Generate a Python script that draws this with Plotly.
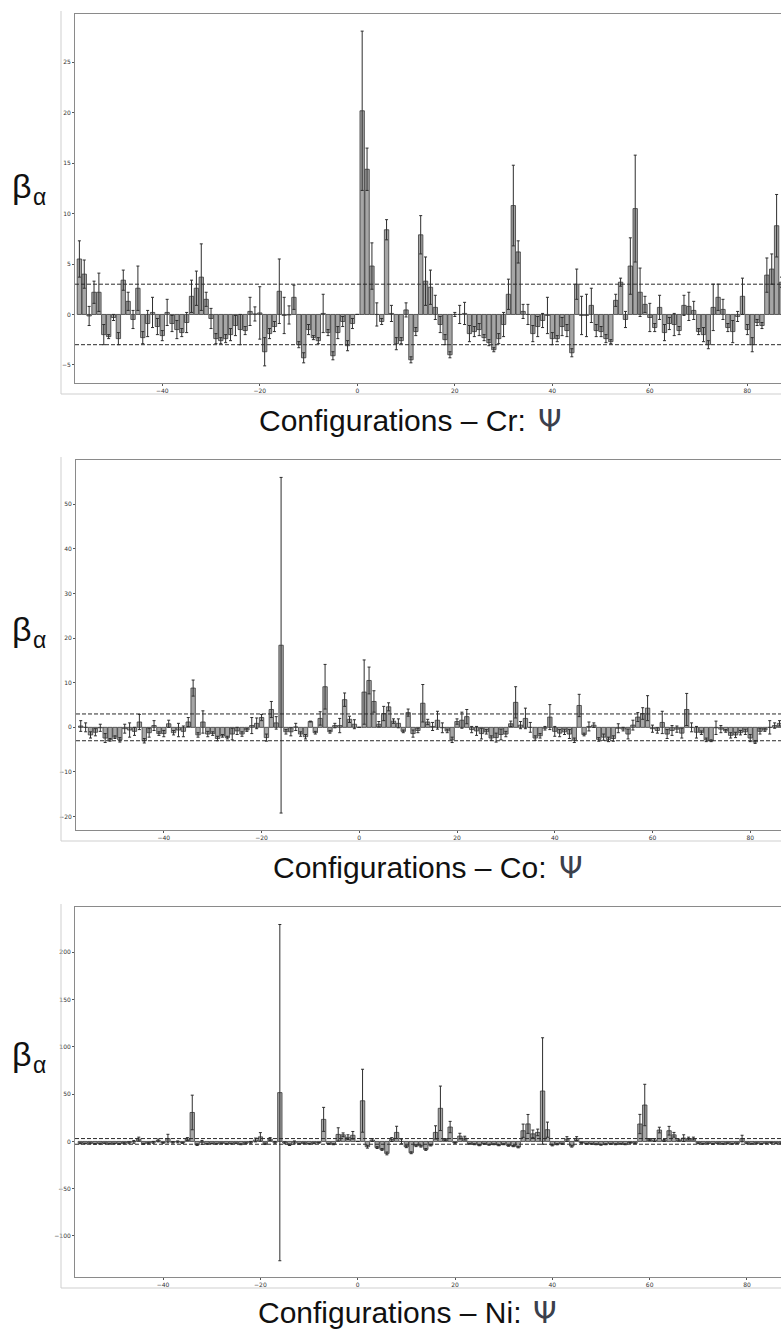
import plotly.graph_objects as go

# ---------------- data ----------------
x_positions = list(range(-57, 88))

cr_values = [5.5, 4.0, -0.15, 2.2, 2.2, -2.0, -2.2, -0.3, -2.4, 3.4,
             1.3, -0.5, 2.6, -2.3, -0.9, 0.2, -1.2, -2.1, 0.2, -0.9,
             -1.5, -1.8, -0.8, 1.8, 2.6, 3.7, 1.5, -0.4, -2.4, -2.6,
             -2.4, -2.0, -1.1, -1.5, -1.6, 0.3, 0.05, 0.15, -3.7, -1.9,
             -1.2, 2.3, -0.1, -0.05, 1.7, -3.0, -4.3, -1.5, -2.3, -2.6,
             0.1, -1.8, -4.1, -1.8, -0.7, -3.1, -0.9, 0.0, 20.2, 14.4,
             4.8, 0.0, -0.7, 8.4, 0.1, -2.9, -2.6, 0.45, -4.5, -1.7,
             7.9, 3.3, 2.7, 0.7, -1.0, -2.5, -4.0, 0.0, 0.0, 0.1,
             -1.9, -1.7, -1.5, -2.3, -2.8, -3.5, -2.4, -1.0, 2.0, 10.8,
             6.2, 0.3, 0.0, -1.9, -1.2, -0.6, -0.1, -2.4, -2.4, -1.2,
             -1.6, -3.8, 3.0, -0.1, -0.1, 0.9, -1.6, -1.7, -2.4, -2.7,
             1.4, 3.2, -0.5, 4.8, 10.5, 2.2, 1.0, -0.3, -1.3, 0.7,
             -1.8, -0.9, -1.0, -1.6, 0.9, 0.8, 0.4, -1.7, -2.0, -3.0,
             0.7, 1.7, 0.5, -1.3, -1.7, -0.2, 1.8, -1.5, -3.0, -0.8,
             -1.1, 3.9, 4.5, 8.8, 3.2]
cr_errors = [1.8, 1.4, 0.95, 1.1, 1.9, 1.0, 0.2, 0.3, 0.6, 1.0,
             0.9, 0.9, 2.2, 0.6, 1.3, 1.5, 0.8, 0.5, 1.3, 0.8,
             0.9, 0.4, 1.0, 1.6, 1.7, 3.3, 0.7, 1.0, 0.5, 0.3,
             0.4, 0.6, 1.0, 1.5, 0.4, 1.4, 0.7, 2.6, 1.4, 0.5,
             0.5, 3.2, 1.8, 0.9, 1.2, 0.3, 0.5, 0.5, 0.2, 0.3,
             1.9, 0.3, 0.4, 0.6, 0.5, 0.5, 0.5, 0.0, 7.9, 2.1,
             2.3, 1.15, 0.3, 1.0, 0.8, 0.6, 0.3, 0.7, 0.3, 0.4,
             1.9, 2.4, 1.7, 1.2, 0.8, 0.5, 0.3, 0.2, 0.9, 1.1,
             0.8, 0.5, 0.6, 0.3, 0.3, 0.2, 0.5, 1.2, 1.5, 4.0,
             1.1, 0.7, 1.0, 0.8, 1.0, 0.7, 1.8, 0.6, 0.3, 0.9,
             0.6, 0.4, 1.5, 1.9, 2.1, 1.7, 0.6, 0.5, 0.4, 0.2,
             0.6, 0.4, 0.8, 2.8, 5.3, 2.4, 0.8, 1.4, 0.4, 1.2,
             0.8, 0.6, 1.1, 0.4, 1.0, 1.4, 0.9, 0.3, 0.7, 0.4,
             2.3, 1.3, 1.0, 0.4, 1.1, 0.5, 1.8, 0.5, 0.7, 0.3,
             0.3, 1.7, 1.5, 3.1, 0.5]

co_values = [0.3, 0.0, -1.7, -1.1, -0.1, -2.4, -2.8, -2.2, -2.8, -0.3,
             -0.6, -0.9, 1.2, -3.0, -1.2, 0.4, -1.4, -1.4, 0.8, -1.2,
             -0.6, -0.9, 1.2, 8.8, -1.7, 1.2, -1.5, -1.4, -2.5, -1.9,
             -2.3, -1.5, -0.8, -1.5, -0.6, 0.4, 0.9, 2.2, -2.3, 4.0,
             1.0, 18.4, -1.0, -1.0, 0.1, -1.5, -2.1, 1.3, -1.2, 2.0,
             9.1, -1.0, 0.4, 0.4, 6.2, 1.8, 0.7, 0.0, 7.9, 10.5,
             5.8, 0.7, 3.1, 4.6, 1.4, 0.9, -0.9, 3.3, -1.4, -0.7,
             5.4, 1.2, 0.2, 1.6, -0.1, -0.8, -2.8, 1.3, 1.6, 2.4,
             -0.5, -0.8, -1.4, -1.0, -2.4, -2.3, -1.6, -1.5, 0.8, 5.6,
             0.5, 2.0, 0.0, -2.4, -1.9, -0.2, 2.3, -0.9, -1.3, -1.0,
             -1.5, -2.9, 4.9, -1.6, 0.2, 0.5, -2.7, -2.2, -2.7, -2.5,
             -0.2, -0.4, -1.5, 0.5, 2.3, 3.1, 4.3, -0.3, -0.7, 1.1,
             -1.5, -0.7, -0.4, -1.3, 4.0, 0.0, -1.1, -1.2, -2.8, -3.0,
             -0.1, -0.4, -0.8, -1.8, -1.7, -1.2, -1.0, -2.4, -3.3, -0.9,
             -0.6, 0.0, 0.4, 0.9, 0.6]
co_errors = [1.2, 1.0, 0.7, 0.8, 0.8, 1.0, 0.3, 0.3, 0.5, 1.0,
             1.6, 0.9, 1.7, 0.5, 1.0, 1.1, 0.4, 0.7, 0.8, 0.5,
             1.5, 1.2, 1.0, 1.8, 0.5, 2.5, 0.6, 0.4, 0.5, 0.3,
             0.3, 1.3, 0.8, 0.5, 0.3, 1.8, 1.2, 0.7, 0.8, 1.8,
             1.4, 37.6, 0.5, 0.9, 0.8, 0.5, 0.5, 0.1, 0.3, 1.5,
             5.0, 0.3, 0.5, 1.6, 1.5, 0.7, 1.0, 0.0, 7.2, 3.0,
             2.4, 0.6, 1.6, 0.9, 0.5, 1.0, 0.3, 0.8, 0.8, 0.5,
             4.2, 0.6, 0.9, 2.0, 1.1, 0.4, 0.6, 0.6, 1.8, 1.6,
             0.7, 1.0, 1.2, 0.5, 0.5, 1.0, 1.2, 0.6, 0.6, 3.5,
             0.8, 2.3, 1.1, 0.5, 0.5, 0.4, 2.8, 1.1, 0.8, 0.6,
             1.0, 0.5, 2.5, 0.3, 1.0, 0.5, 0.4, 0.7, 0.5, 0.6,
             1.0, 0.4, 1.1, 1.1, 1.0, 1.3, 2.8, 0.8, 0.6, 2.5,
             1.0, 1.1, 0.7, 1.1, 3.6, 1.0, 1.3, 0.4, 0.4, 0.2,
             1.5, 0.8, 0.3, 0.6, 0.6, 0.5, 0.6, 0.8, 0.3, 0.6,
             0.3, 1.5, 0.6, 0.6, 0.4]

ni_values = [-2.0, -2.2, -2.0, -2.5, -2.3, -2.0, -2.4, -2.2, -2.5, -2.0,
             -1.5, -0.5, 2.5, -2.5, -2.0, -1.0, 1.0, -1.5, 3.0, -1.0,
             -0.5, -1.5, 2.5, 30.6, -3.5, -1.0, -2.5, -2.2, -2.4, -2.0,
             -2.5, -2.3, -2.0, -3.0, -2.0, -1.0, 1.5, 4.8, -2.5, 2.5,
             -1.0, 51.6, -1.5, -3.5, -1.0, -2.5, -2.0, -2.5, -2.0, -1.5,
             23.3, -2.5, -3.0, 7.4, 7.0, 4.5, 6.5, 0.0, 43.0, -5.6,
             1.5, -6.5, -8.5, -12.7, 2.0, 9.5, 0.0, -5.6, -12.0, -4.5,
             -5.0, -8.5, -4.0, 9.5, 35.0, 2.0, 15.2, -1.5, 5.6, 3.5,
             -2.5, -3.0, -4.0, -2.5, -3.5, -3.0, -4.0, -3.0, -4.5, -5.0,
             -6.0, 11.3, 18.5, 8.0, 9.5, 53.3, 12.4, -3.9, -3.0, -2.5,
             2.5, -5.0, 3.0, -1.5, -2.5, -2.5, -3.0, -3.5, -3.0, -2.5,
             -3.0, -2.5, -3.0, -1.5, -2.0, 18.4, 38.5, 2.0, 1.5, 12.0,
             1.0, 11.3, 7.0, 1.5, 3.5, 3.0, 3.0, -2.0, -2.5, -2.0,
             -2.5, -2.0, -2.5, -2.0, -2.5, -2.0, 3.0, -2.0, -2.5, -2.0,
             -2.5, -2.0, -1.5, -2.0, -2.0]
ni_errors = [0.5, 0.4, 0.5, 0.4, 0.5, 0.4, 0.5, 0.4, 0.5, 0.6,
             1.0, 1.5, 2.0, 0.5, 0.6, 1.0, 1.5, 0.5, 4.5, 0.8,
             1.0, 0.6, 1.5, 18.3, 0.8, 2.0, 0.5, 0.4, 0.5, 0.4,
             0.5, 0.5, 0.4, 0.5, 0.6, 1.0, 2.0, 4.5, 0.8, 1.5,
             1.0, 177.8, 1.0, 0.8, 1.5, 0.5, 0.5, 0.4, 0.5, 0.4,
             12.7, 0.5, 0.5, 7.0, 2.0, 2.5, 4.0, 0.0, 33.3, 1.5,
             1.5, 1.0, 1.0, 1.5, 2.0, 6.5, 2.5, 1.0, 1.0, 1.0,
             1.0, 1.0, 0.8, 7.0, 23.5, 1.0, 6.0, 0.5, 3.0, 2.0,
             0.5, 0.5, 0.6, 0.5, 0.5, 0.5, 0.6, 0.5, 0.6, 0.6,
             0.8, 7.0, 10.0, 4.0, 3.5, 56.3, 8.0, 0.8, 0.6, 0.6,
             2.5, 1.0, 2.0, 0.5, 0.5, 0.5, 0.5, 0.5, 0.5, 0.5,
             0.5, 0.5, 0.5, 0.5, 0.5, 10.2, 21.9, 1.0, 1.5, 3.0,
             1.0, 4.6, 2.5, 1.0, 3.5, 1.5, 1.5, 0.5, 0.5, 0.4,
             0.5, 0.4, 0.5, 0.5, 0.5, 0.4, 3.5, 0.5, 0.5, 0.5,
             0.5, 0.4, 0.5, 0.5, 0.5]

panel_labels = ["Cr", "Co", "Ni"]
x_tickvals = [-40, -20, 0, 20, 40, 60, 80]
y_tickvals = [
    [-5, 0, 5, 10, 15, 20, 25],
    [-20, -10, 0, 10, 20, 30, 40, 50],
    [-100, -50, 0, 50, 100, 150, 200],
]
threshold = 3

# ---------------- layout geometry (pixels) ----------------
W, H = 781, 1333
panels = [
    dict(left=75, top=14, bottom=383, xr=[-57.9, 86.9], yr=[-6.8, 29.8],
         beta_y=186, title_y=420, title_right=528),
    dict(left=76, top=460, bottom=830, xr=[-57.97, 86.3], yr=[-23.0, 59.9],
         beta_y=629, title_y=867, title_right=549),
    dict(left=75, top=907, bottom=1277, xr=[-58.1, 87.0], yr=[-143.4, 247.9],
         beta_y=1054, title_y=1312, title_right=523),
]
series = [(cr_values, cr_errors), (co_values, co_errors), (ni_values, ni_errors)]

fig = go.Figure()
shapes = []
annotations = []
layout_axes = {}


def py(v):
    return 1 - v / H


for i, (p, (vals, errs)) in enumerate(zip(panels, series)):
    n = "" if i == 0 else str(i + 1)
    xa, ya = "x" + n, "y" + n
    fig.add_trace(go.Bar(
        x=x_positions, y=vals, width=0.9,
        marker=dict(color="#a6a6a6", line=dict(color="#3a3a3a", width=0.8)),
        error_y=dict(type="data", array=errs, visible=True,
                     color="#2e2e2e", thickness=1, width=1.5),
        xaxis=xa, yaxis=ya, showlegend=False,
    ))
    layout_axes["xaxis" + n] = dict(
        domain=[p["left"] / W, 1.0], range=p["xr"], anchor=ya,
        tickvals=x_tickvals, ticks="outside", ticklen=2, tickcolor="#555",
        tickfont=dict(size=6, color="#333", family="DejaVu Sans"),
        showline=True, linecolor="#8a8a8a", linewidth=1, mirror=True,
        showgrid=False, zeroline=False,
    )
    layout_axes["yaxis" + n] = dict(
        domain=[py(p["bottom"]), py(p["top"])], range=p["yr"], anchor=xa,
        tickvals=y_tickvals[i], ticks="outside", ticklen=2, tickcolor="#555",
        tickfont=dict(size=6, color="#333", family="DejaVu Sans"),
        showline=True, linecolor="#8a8a8a", linewidth=1, mirror=False,
        showgrid=False, zeroline=False,
    )
    for yv in (threshold, -threshold):
        shapes.append(dict(type="line", xref=xa + " domain", yref=ya,
                           x0=0, x1=1, y0=yv, y1=yv,
                           line=dict(color="#2a2a2a", width=1, dash="4px,2px")))
    # outer screenshot frame lines
    shapes.append(dict(type="line", xref="paper", yref="paper",
                       x0=61 / W, x1=61 / W,
                       y0=py(p["bottom"] + 11), y1=py(p["top"] - 3),
                       line=dict(color="#cfcfcf", width=1)))
    shapes.append(dict(type="line", xref="paper", yref="paper",
                       x0=61 / W, x1=1,
                       y0=py(p["bottom"] + 11), y1=py(p["bottom"] + 11),
                       line=dict(color="#cfcfcf", width=1)))
    # beta_alpha label (beta and alpha as separate texts)
    annotations.append(dict(
        xref="paper", yref="paper", x=22 / W, y=py(p["beta_y"]),
        xanchor="center", yanchor="middle", showarrow=False,
        text="β", font=dict(size=34, color="#111", family="Liberation Sans"),
    ))
    annotations.append(dict(
        xref="paper", yref="paper", x=31 / W, y=py(p["beta_y"] + 11),
        xanchor="left", yanchor="middle", showarrow=False,
        text="α", font=dict(size=23, color="#111", family="Liberation Sans"),
    ))
    # x title (main text + Psi)
    annotations.append(dict(
        xref="paper", yref="paper", x=p["title_right"] / W, y=py(p["title_y"]),
        xanchor="right", yanchor="middle", showarrow=False,
        text="Configurations – " + panel_labels[i] + ":",
        font=dict(size=30, color="#111", family="Liberation Sans"),
    ))
    annotations.append(dict(
        xref="paper", yref="paper", x=(p["title_right"] + 8) / W, y=py(p["title_y"]),
        xanchor="left", yanchor="middle", showarrow=False,
        text="Ψ", font=dict(size=30, color="#3b404c", family="DejaVu Sans"),
    ))

fig.update_layout(
    width=W, height=H, margin=dict(l=0, r=0, t=0, b=0),
    paper_bgcolor="white", plot_bgcolor="white",
    shapes=shapes, annotations=annotations, bargap=0.1,
    **layout_axes,
)

fig.write_html("out.html")
